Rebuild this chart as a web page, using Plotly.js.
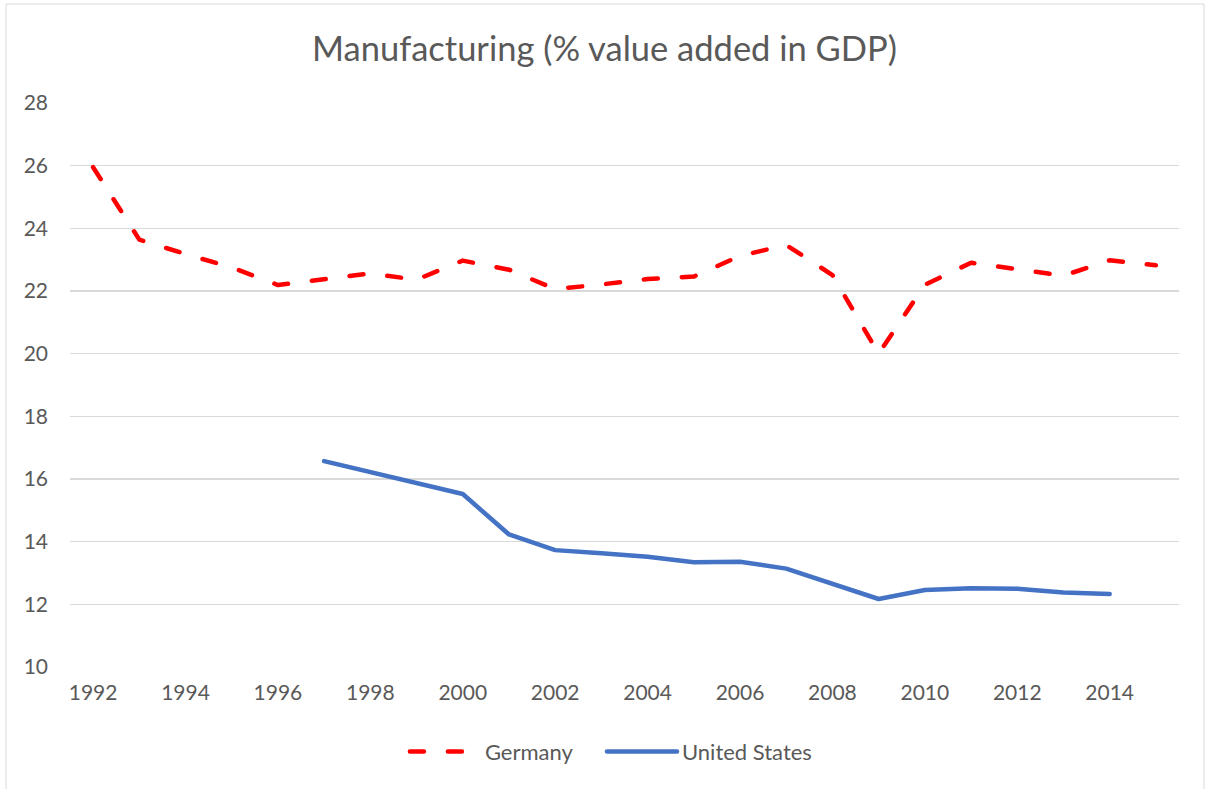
<!DOCTYPE html>
<html>
<head>
<meta charset="utf-8">
<script src="https://cdn.plot.ly/plotly-3.0.1.min.js"></script>
<style>
  html, body { margin: 0; padding: 0; background: #ffffff; }
  #chart { width: 1209px; height: 789px; }
  .scatterlayer path.js-line, .legendlines path { stroke-linecap: round; stroke-linejoin: round; }
</style>
</head>
<body>
<div id="chart"></div>
<script>
const years = [1992,1993,1994,1995,1996,1997,1998,1999,2000,2001,2002,2003,2004,2005,2006,2007,2008,2009,2010,2011,2012,2013,2014,2015];
const germany = [25.95,23.64,23.18,22.75,22.19,22.36,22.56,22.36,22.97,22.68,22.06,22.21,22.38,22.46,23.12,23.47,22.51,20.0,22.2,22.9,22.69,22.49,22.98,22.82];
const usYears = [1997,1998,1999,2000,2001,2002,2003,2004,2005,2006,2007,2008,2009,2010,2011,2012,2013,2014];
const unitedStates = [16.57,16.21,15.86,15.52,14.23,13.73,13.63,13.52,13.34,13.36,13.14,12.65,12.17,12.46,12.51,12.50,12.38,12.33];
const xTickVals = [1992,1994,1996,1998,2000,2002,2004,2006,2008,2010,2012,2014];
const yTickVals = [10,12,14,16,18,20,22,24,26,28];
const seriesNames = ["Germany", "United States"];
const titleText = "Manufacturing (% value added in GDP)";

const FONT = "Lato, 'Open Sans', sans-serif";
const TXT = "#595959";
const GRID = "#d9d9d9";

const traces = [
  {
    x: years, y: germany, name: seriesNames[0], type: "scatter", mode: "lines",
    legend: "legend",
    line: { color: "#ff0000", width: 4.5, dash: "14px,24px" }
  },
  {
    x: usYears, y: unitedStates, name: seriesNames[1], type: "scatter", mode: "lines",
    legend: "legend2",
    line: { color: "#4472c4", width: 4.5 }
  }
];

const legendCommon = {
  orientation: "h", xanchor: "left", y: -0.15, yanchor: "middle",
  font: { family: FONT, size: 22, color: TXT },
  itemwidth: 70, bgcolor: "rgba(0,0,0,0)"
};

const layout = {
  width: 1209, height: 789,
  margin: { l: 70, r: 30, t: 103, b: 122, pad: 0 },
  paper_bgcolor: "#ffffff", plot_bgcolor: "#ffffff",
  font: { family: FONT, color: TXT, size: 21 },
  title: {
    text: titleText, x: 0.5, xref: "container", xanchor: "center",
    y: 0.938, yref: "container", yanchor: "middle",
    font: { family: FONT, size: 34.5, color: TXT }
  },
  xaxis: {
    range: [1991.5, 2015.5], tickmode: "array", tickvals: xTickVals,
    ticktext: xTickVals.map(String),
    showgrid: false, zeroline: false, showline: false, ticks: "",
    ticklabelstandoff: 11,
    tickfont: { family: FONT, size: 21, color: TXT }
  },
  yaxis: {
    range: [10, 28], tickmode: "array", tickvals: yTickVals,
    showgrid: true, gridcolor: GRID, gridwidth: 1.3, zeroline: false, showline: false, ticks: "",
    ticklabelstandoff: 21,
    tickfont: { family: FONT, size: 21, color: TXT }
  },
  showlegend: true,
  legend: Object.assign({}, legendCommon, { x: 0.302 }),
  legend2: Object.assign({}, legendCommon, { x: 0.4797 }),
  shapes: [
    { type: "rect", xref: "paper", yref: "paper", x0: -0.0577, x1: 1.0225, y0: -0.3, y1: 1.1755,
      line: { color: GRID, width: 1 }, fillcolor: "rgba(0,0,0,0)", layer: "below" }
  ]
};

Plotly.newPlot("chart", traces, layout, { displayModeBar: false, staticPlot: true });
</script>
</body>
</html>
